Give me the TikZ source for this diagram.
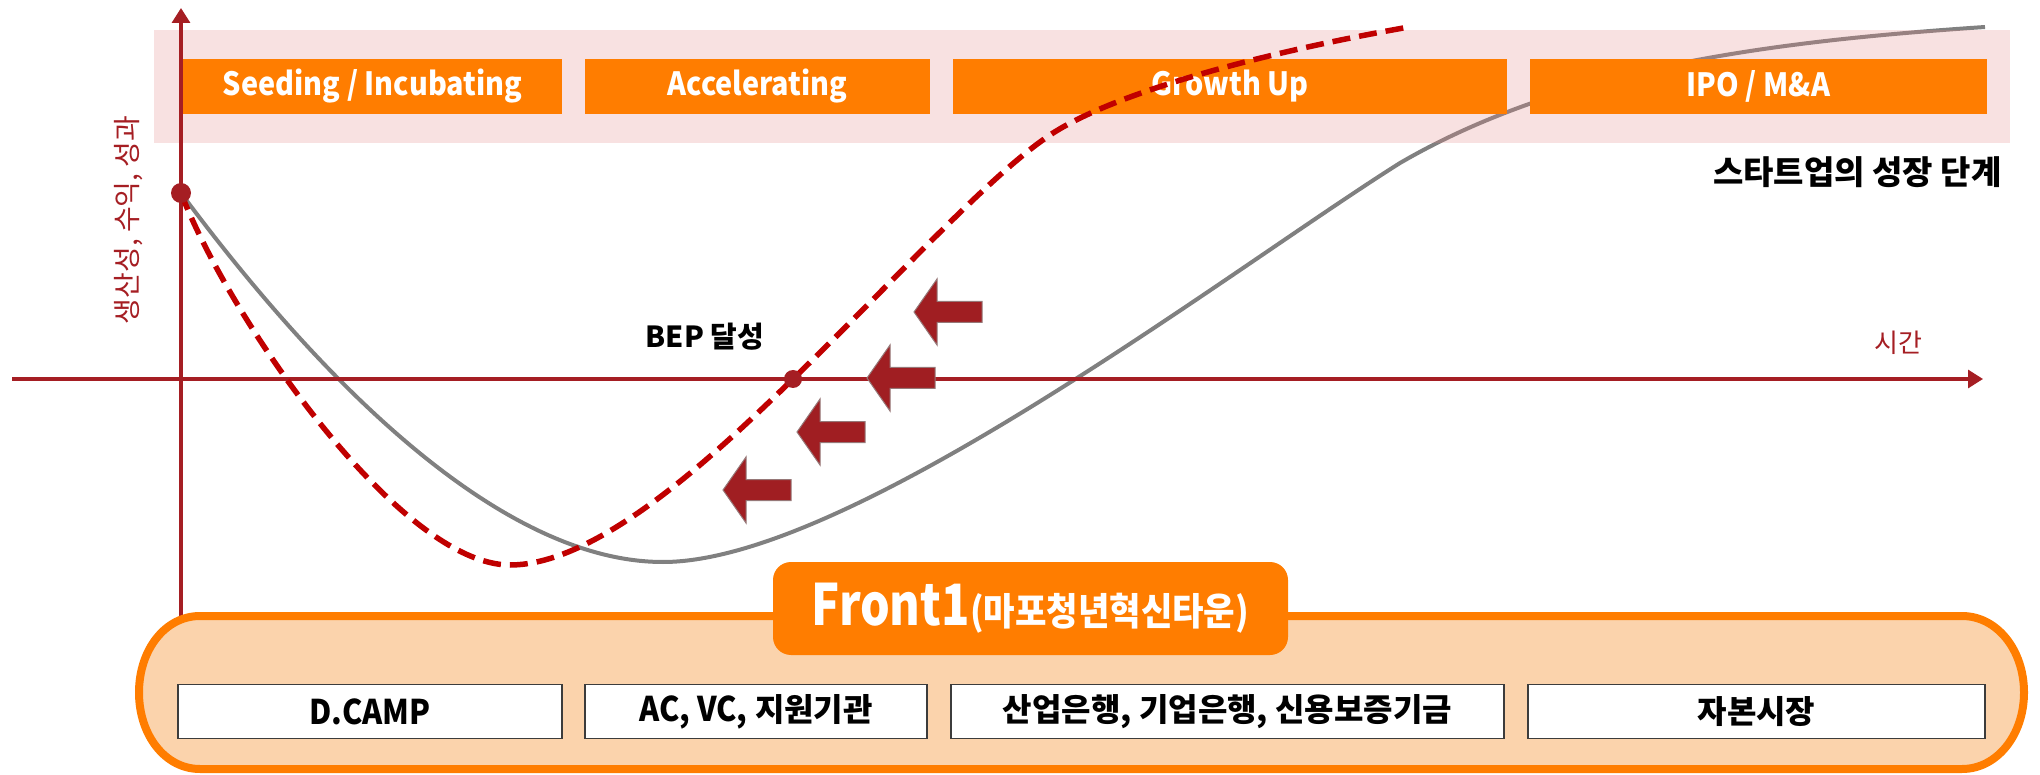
\documentclass[tikz,border=0pt]{standalone}
\usepackage{fontspec}
\setmainfont{Noto Sans CJK KR}
\newfontfamily\kr{Noto Sans CJK KR}
\newfontfamily\krc{Noto Sans CJK KR}[FakeStretch=0.9]
\newfontfamily\krf{Noto Sans CJK KR}[FakeStretch=0.82]
\usetikzlibrary{arrows.meta}
\definecolor{orangec}{RGB}{255,125,0}
\definecolor{axisred}{RGB}{165,30,35}
\definecolor{dashred}{RGB}{192,0,0}
\definecolor{arrowred}{RGB}{160,30,34}
\definecolor{curvegray}{RGB}{128,128,128}
\definecolor{pinkband}{RGB}{227,135,135}
\definecolor{bandfill}{RGB}{251,211,172}
\newcommand{\leftblockarrow}[2]{%
  \draw[blockarrow] (#1,#2) -- ++(23,-33) -- ++(0,22.5) -- ++(45,0) -- ++(0,21) -- ++(-45,0) -- ++(0,22.5) -- cycle;}
\tikzset{
  stagebox/.style={fill=orangec, draw=none, minimum height=55, inner sep=0, text=white,
    font=\krc\bfseries\fontsize{32}{38}\selectfont},
  lbox/.style={draw={rgb,255:red,60;green,60;blue,60}, line width=1.5, fill=white, minimum height=54, inner sep=0,
    font=\kr\bfseries\fontsize{32}{38}\selectfont},
  axisline/.style={draw=axisred, line width=3.2, -{Triangle[length=15,width=18]}},
  graycurve/.style={draw=curvegray, line width=4},
  dashcurve/.style={draw=dashred, line width=5.5, dash pattern=on 18pt off 9pt},
  reddot/.style={circle, fill=axisred, minimum size=#1, inner sep=0},
  blockarrow/.style={fill=arrowred, draw={rgb,255:red,150;green,120;blue,120}, line width=1},
}
\begin{document}
\begin{tikzpicture}[x=1pt,y=-1pt]
\useasboundingbox (0,0) rectangle (2040,775);
\coordinate (start) at (181,193);
\coordinate (bep) at (793,379);
% gray curve (under band)
\draw[graycurve] (start) .. controls (320,380) and (500,562) .. (663,562)
  .. controls (850,562) and (1230,270) .. (1400,163)
  .. controls (1560,70) and (1760,42) .. (1985,27);
% pink band
\fill[pinkband, opacity=0.25] (154,30) rectangle (2010,143);
% stage boxes
\node[stagebox, minimum width=379] (s1) at (372.5,86.5) {Seeding / Incubating};
\node[stagebox, minimum width=345] (s2) at (757.5,86.5) {Accelerating};
\node[stagebox, minimum width=554] (s3) at (1230,86.5) {Growth Up};
\node[stagebox, minimum width=457] (s4) at (1758.5,86.5) {IPO / M\&A};
% axes
\coordinate (yfoot) at (181,622);
\coordinate (ytop) at (181,8);
\coordinate (xleft) at (12,379);
\coordinate (xright) at (1983,379);
\draw[axisline] (yfoot) -- (ytop);
\draw[axisline] (xleft) -- (xright);
% dashed curve
\draw[dashcurve] (start) .. controls (230,320) and (400,565) .. (510,565)
  .. controls (600,565) and (720,450) .. (bep)
  .. controls (900,275) and (990,175) .. (1050,135)
  .. controls (1110,95) and (1250,55) .. (1409,27);
% dots
\node[reddot=20] (startdot) at (start) {};
\node[reddot=18] (bepdot) at (bep) {};
% block arrows
\leftblockarrow{914}{312}
\leftblockarrow{867}{378}
\leftblockarrow{797}{432}
\leftblockarrow{723}{490}
% labels
\node[font=\kr\bfseries\fontsize{29}{34}\selectfont] (beplabel) at (705,337) {BEP 달성};
\node[font=\kr\bfseries\fontsize{33}{40}\selectfont, anchor=east] (stagecap) at (2005,172) {스타트업의 성장 단계};
\node[font=\kr\fontsize{26}{30}\selectfont, text=axisred] (timelabel) at (1898,343) {시간};
\node[font=\kr\fontsize{28}{32}\selectfont, text=axisred, rotate=90] (ylabel) at (129,220) {생산성, 수익, 성과};
% bottom band
\draw[draw=orangec, line width=8, fill=bandfill]
  (200,616) -- (1962,616) .. controls (1997,616) and (2024,650) .. (2024,692.5)
  .. controls (2024,735) and (1997,769) .. (1962,769) -- (200,769)
  .. controls (165,769) and (139,735) .. (139,692.5)
  .. controls (139,650) and (165,616) .. (200,616) -- cycle;
\node[fill=orangec, rounded corners=18, minimum width=515, minimum height=93, inner sep=0, text=white] (front) at (1030.5,608.5)
  {{\krf\bfseries\fontsize{57}{64}\selectfont Front1}{\krc\bfseries\fontsize{38}{42}\selectfont (마포청년혁신타운)}};
\node[lbox, minimum width=384] (b1) at (370,711.5) {{\krc\bfseries\fontsize{34}{40}\selectfont D.CAMP}};
\node[lbox, minimum width=342] (b2) at (756,711.5) {{\krc\bfseries\fontsize{34}{40}\selectfont AC, VC,} 지원기관};
\node[lbox, minimum width=553] (b3) at (1227.5,711.5) {산업은행, 기업은행, 신용보증기금};
\node[lbox, minimum width=457] (b4) at (1756.5,711.5) {자본시장};
\end{tikzpicture}
\end{document}
